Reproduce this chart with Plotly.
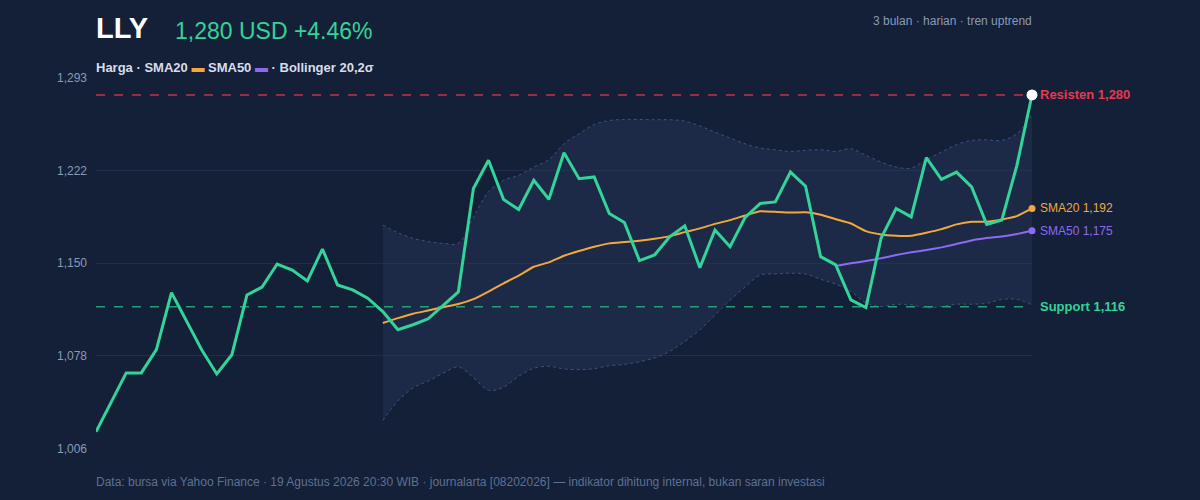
import plotly.graph_objects as go

# --- data (63 daily closes, ~3 months) ---
days = list(range(63))
price = [
    1019.3, 1042.1, 1064.8, 1064.8, 1082.8, 1127.0, 1105.2, 1082.8, 1064.0, 1078.9,
    1125.2, 1131.2, 1149.1, 1144.5, 1136.0, 1160.7, 1132.9, 1129.1, 1122.7, 1112.3,
    1098.2, 1102.1, 1106.7, 1117.5, 1127.5, 1207.5, 1229.4, 1199.0, 1191.3, 1213.9,
    1199.3, 1235.3, 1215.2, 1216.5, 1188.2, 1181.3, 1151.7, 1156.1, 1170.2, 1178.7,
    1146.3, 1175.4, 1162.5, 1185.2, 1196.0, 1197.2, 1220.3, 1209.3, 1154.8, 1148.4,
    1121.4, 1115.4, 1169.0, 1192.1, 1185.6, 1231.4, 1214.7, 1220.3, 1208.8, 1179.8,
    1183.1, 1225.5, 1280.0,
]
sma20_start = 19
sma20 = [
    1103.4, 1107.2, 1110.6, 1113.1, 1115.7, 1118.1, 1121.9, 1127.8, 1134.2, 1140.1,
    1147.0, 1150.4, 1155.5, 1159.2, 1162.5, 1165.1, 1166.1, 1167.1, 1168.6, 1170.7,
    1173.8, 1176.7, 1180.2, 1183.1, 1186.7, 1190.0, 1189.5, 1189.0, 1189.2, 1187.3,
    1183.8, 1180.5, 1174.6, 1172.0, 1171.0, 1171.0, 1173.3, 1176.1, 1179.8, 1181.8,
    1181.8, 1183.6, 1186.2, 1192.1,
]
sma50_start = 49
sma50 = [
    1147.6, 1149.7, 1151.4, 1153.5, 1156.1, 1158.2, 1159.9, 1162.0, 1164.6, 1167.4,
    1169.2, 1170.5, 1172.3, 1174.8,
]
bb_upper = [
    1179.2, 1173.4, 1169.0, 1166.5, 1165.1, 1165.1, 1185.4, 1205.1, 1213.9, 1217.8,
    1224.2, 1229.9, 1242.2, 1250.0, 1257.1, 1260.2, 1261.0, 1261.0, 1260.8, 1260.8,
    1259.7, 1256.0, 1251.2, 1246.7, 1242.2, 1238.9, 1237.6, 1236.3, 1237.1, 1237.6,
    1236.3, 1238.4, 1233.2, 1228.1, 1224.2, 1223.4, 1229.9, 1235.8, 1241.5, 1244.8,
    1245.3, 1244.8, 1250.0, 1264.9,
]
bb_lower = [
    1028.0, 1043.0, 1053.2, 1058.5, 1064.6, 1069.4, 1061.2, 1051.4, 1053.8, 1062.2,
    1068.4, 1069.9, 1067.9, 1067.3, 1068.1, 1070.4, 1071.4, 1073.5, 1076.4, 1081.5,
    1089.2, 1098.2, 1109.4, 1121.0, 1131.4, 1140.6, 1141.4, 1142.0, 1141.4, 1137.3,
    1133.5, 1127.9, 1119.0, 1116.2, 1117.9, 1117.5, 1115.2, 1116.2, 1118.0, 1118.0,
    1118.7, 1121.7, 1121.7, 1117.5,
]
resistance = 1280
support = 1116
y_ticks = [1006.4, 1078.15, 1149.9, 1221.65, 1293.4]
y_tick_text = ["1,006", "1,078", "1,150", "1,222", "1,293"]

BG = "#141f38"
GRID = "#212e4a"
GREEN = "#34d399"
ORANGE = "#f2a93b"
PURPLE = "#8b6cf0"
RED = "#e8384f"
MUTED = "#8a9bb5"
FONT = "Liberation Sans, Arial, Helvetica, sans-serif"

W, H = 1200, 500
PL, PR, PT, PB = 96, 168, 77, 51

x20 = days[sma20_start:]
x50 = days[sma50_start:]

fig = go.Figure()

# Bollinger band (lower first, upper fills down to it)
fig.add_trace(go.Scatter(
    x=x20, y=bb_lower, mode="lines",
    line=dict(color="#3b5380", width=1, dash="dot", shape="spline"),
    hoverinfo="skip",
))
fig.add_trace(go.Scatter(
    x=x20, y=bb_upper, mode="lines",
    line=dict(color="#3b5380", width=1, dash="dot", shape="spline"),
    fill="tonexty", fillcolor="rgba(38,56,92,0.45)",
    hoverinfo="skip",
))

# support / resistance
fig.add_trace(go.Scatter(
    x=[days[0], days[-1]], y=[resistance, resistance], mode="lines",
    line=dict(color="#c0334c", width=1.5, dash="dash"), hoverinfo="skip",
))
fig.add_trace(go.Scatter(
    x=[days[0], days[-1]], y=[support, support], mode="lines",
    line=dict(color="#22a078", width=1.5, dash="dash"), hoverinfo="skip",
))

fig.add_trace(go.Scatter(
    x=x20, y=sma20, mode="lines",
    line=dict(color=ORANGE, width=2, shape="spline", smoothing=0.4),
))
fig.add_trace(go.Scatter(
    x=x50, y=sma50, mode="lines",
    line=dict(color=PURPLE, width=2, shape="spline", smoothing=0.4),
))
fig.add_trace(go.Scatter(
    x=days, y=price, mode="lines",
    line=dict(color=GREEN, width=3),
))

# end markers
for yv, col, sz in ((sma20[-1], ORANGE, 7), (sma50[-1], PURPLE, 7), (price[-1], "#ffffff", 11)):
    fig.add_trace(go.Scatter(
        x=[days[-1]], y=[yv], mode="markers", cliponaxis=False,
        marker=dict(color=col, size=sz),
    ))


# right-hand labels
def side_label(y, text, color, bold=False, size=12):
    fig.add_annotation(
        x=days[-1], y=y, xref="x", yref="y", xanchor="left", yanchor="middle",
        xshift=6, text=f"<b>{text}</b>" if bold else text, showarrow=False,
        font=dict(color=color, size=size, family=FONT),
    )


side_label(resistance, f"Resisten {resistance:,}", RED, bold=True, size=13)
side_label(sma20[-1], f"SMA20 {round(sma20[-1]):,}", ORANGE)
side_label(sma50[-1], f"SMA50 {round(sma50[-1]):,}", PURPLE)
side_label(support, f"Support {support:,}", GREEN, bold=True, size=13)


# header / footer text placed by pixel position
def pixel_text(px, py, text, color, size, anchor="left"):
    fig.add_annotation(
        x=(px - PL) / (W - PL - PR), y=1 - (py - PT) / (H - PT - PB),
        xref="paper", yref="paper", text=text, showarrow=False,
        font=dict(color=color, size=size, family=FONT),
        xanchor=anchor, yanchor="middle",
    )


pixel_text(94, 28, "<b>LLY</b>", "#ffffff", 29)
pixel_text(173, 31, f"{price[-1]:,.0f} USD +4.46%", GREEN, 23)
pixel_text(1034, 21, "3 bulan · harian · tren uptrend", MUTED, 12, anchor="right")
pixel_text(
    94, 67,
    f"<b>Harga · SMA20 <span style='color:{ORANGE}'>▬</span> SMA50 "
    f"<span style='color:{PURPLE}'>▬</span> · Bollinger 20,2σ</b>",
    "#d5deea", 13,
)
pixel_text(
    94, 482,
    "Data: bursa via Yahoo Finance · 19 Agustus 2026 20:30 WIB · journalarta "
    "[08202026] — indikator dihitung internal, bukan saran investasi",
    "#5e7190", 12,
)

fig.update_layout(
    width=W, height=H,
    margin=dict(l=PL, r=PR, t=PT, b=PB),
    paper_bgcolor=BG, plot_bgcolor=BG,
    showlegend=False,
    font=dict(family=FONT, color=MUTED, size=12),
    xaxis=dict(range=[days[0], days[-1]], visible=False, showgrid=False, zeroline=False),
    yaxis=dict(
        range=[1005.9, 1293.9], tickvals=y_ticks, ticktext=y_tick_text,
        gridcolor=GRID, gridwidth=1, zeroline=False, showline=False,
        tickfont=dict(color=MUTED, size=12, family=FONT), ticks="", ticklabelstandoff=8,
    ),
)

fig.write_html(
    "out.html",
    config={"displayModeBar": False},
    post_script="document.body.style.margin='0';document.body.style.background='" + BG + "';",
)
